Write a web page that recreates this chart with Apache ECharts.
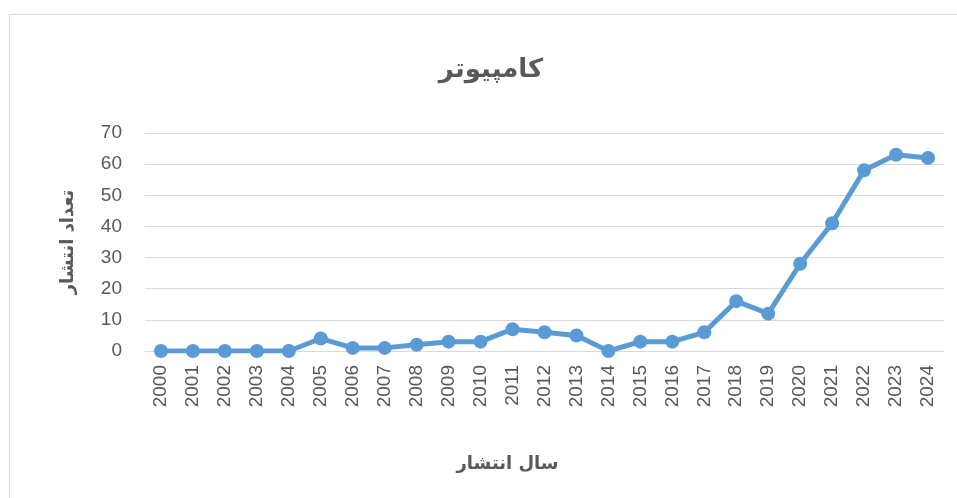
<!DOCTYPE html>
<html>
<head>
<meta charset="utf-8">
<script src="https://cdn.jsdelivr.net/npm/echarts@6/dist/echarts.min.js"></script>
<style>
  html, body { margin: 0; padding: 0; background: #fff; }
  #chart { width: 957px; height: 498px; }
</style>
</head>
<body>
<div id="chart"></div>
<script>
// داده‌ها
const years = ['2000', '2001', '2002', '2003', '2004', '2005', '2006', '2007', '2008', '2009',
  '2010', '2011', '2012', '2013', '2014', '2015', '2016', '2017', '2018', '2019',
  '2020', '2021', '2022', '2023', '2024'];
const counts = [0, 0, 0, 0, 0, 4, 1, 1, 2, 3, 3, 7, 6, 5, 0, 3, 3, 6, 16, 12, 28, 41, 58, 63, 62];

const titleText = 'کامپیوتر';
const xName = 'سال انتشار';
const yName = 'تعداد انتشار';

const faFont = '"DejaVu Sans", "Noto Sans", sans-serif';
const numFont = '"Liberation Sans", "Open Sans", sans-serif';

let myChart = echarts.init(document.getElementById('chart'));
myChart.setOption({
  animation: false,
  color: ['#5B9BD5'],
  graphic: [
    {
      type: 'rect',
      shape: { x: 9.5, y: 14.5, width: 960, height: 500 },
      style: { fill: 'none', stroke: '#d9d9d9', lineWidth: 1 },
      silent: true
    }
  ],
  title: {
    text: titleText,
    left: 486,
    top: 52,
    textAlign: 'center',
    textStyle: {
      fontFamily: faFont,
      fontSize: 26,
      fontWeight: 'bold',
      color: '#595959'
    }
  },
  grid: {
    left: 145,
    right: 13,
    top: 133,
    bottom: 147
  },
  xAxis: {
    type: 'category',
    data: years,
    boundaryGap: true,
    name: xName,
    nameLocation: 'middle',
    nameGap: 104,
    nameTextStyle: {
      fontFamily: faFont,
      fontSize: 18,
      fontWeight: 'bold',
      color: '#595959',
      padding: [0, 74, 0, 0]
    },
    axisLine: { lineStyle: { color: '#d9d9d9', width: 1 } },
    axisTick: { show: false },
    axisLabel: {
      rotate: 90,
      interval: 0,
      margin: 14,
      fontFamily: numFont,
      fontSize: 19,
      color: '#595959'
    }
  },
  yAxis: {
    type: 'value',
    min: 0,
    max: 70,
    interval: 10,
    name: yName,
    nameLocation: 'middle',
    nameGap: 68,
    nameRotate: 90,
    nameTextStyle: {
      fontFamily: faFont,
      fontSize: 18,
      fontWeight: 'bold',
      color: '#595959'
    },
    axisLine: { show: false },
    axisTick: { show: false },
    splitLine: { lineStyle: { color: '#d9d9d9', width: 1 } },
    axisLabel: {
      margin: 23,
      fontFamily: numFont,
      fontSize: 19,
      color: '#595959'
    }
  },
  series: [
    {
      name: yName,
      type: 'line',
      data: counts,
      symbol: 'circle',
      symbolSize: 14,
      lineStyle: { width: 5, color: '#5B9BD5' },
      itemStyle: { color: '#5B9BD5' }
    }
  ]
});
</script>
</body>
</html>
